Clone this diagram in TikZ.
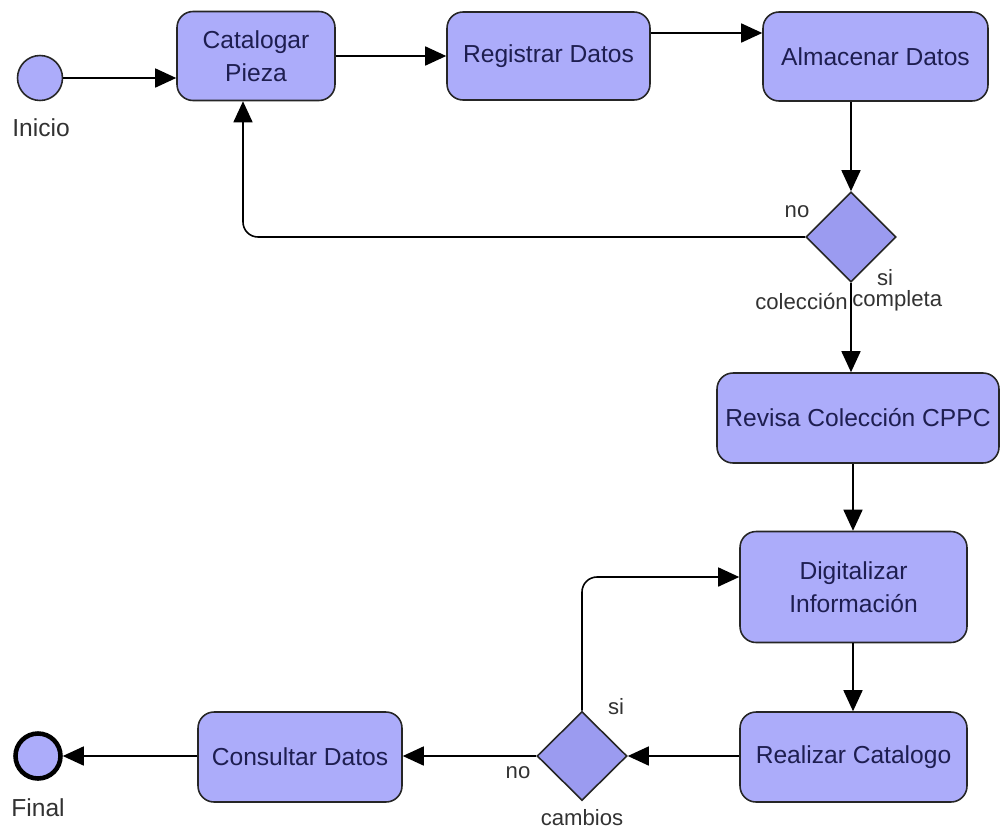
\documentclass[tikz,border=0pt]{standalone}
\usepackage{fontspec}
\setmainfont{Liberation Sans}
\usetikzlibrary{arrows.meta,shapes.geometric}
\definecolor{boxfill}{RGB}{172,172,250}
\definecolor{dfill}{RGB}{155,155,240}
\definecolor{txt}{RGB}{30,30,80}
\definecolor{lbl}{RGB}{50,50,50}
\begin{document}
\begin{tikzpicture}[x=0.02cm,y=-0.02cm,
  act/.style={draw=black!85,line width=0.9pt,fill=boxfill,rounded corners=0.32cm,inner sep=0pt,align=center,text=txt,font=\fontsize{14}{18.7}\selectfont},
  dec/.style={diamond,draw=black!85,line width=0.9pt,fill=dfill,inner sep=0pt,minimum width=1.8cm,minimum height=1.8cm},
  startst/.style={circle,draw=black!85,line width=0.9pt,fill=boxfill,minimum size=0.9cm,inner sep=0pt},
  endst/.style={circle,draw=black,line width=2.6pt,fill=boxfill,minimum size=0.9cm,inner sep=0pt},
  lab/.style={text=lbl,font=\fontsize{12.6}{15}\selectfont,inner sep=0pt},
  conn/.style={line width=0.9pt,-{Triangle[length=0.42cm,width=0.38cm]}}]
\useasboundingbox (0,0) rectangle (1000,832);
% nodes
\node[startst] (ini) at (40,78) {};
\node[lab,font=\fontsize{14}{15}\selectfont] (inil) at (41,128) {Inicio};
\node[act,minimum width=3.16cm,minimum height=1.78cm] (cat) at (256,56) {Catalogar\\Pieza};
\node[act,minimum width=4.06cm,minimum height=1.76cm] (reg) at (548.5,56) {Registrar Datos};
\node[act,minimum width=4.5cm,minimum height=1.78cm] (alm) at (875.5,56.5) {Almacenar Datos};
\node[dec] (d1) at (851,237) {};
\node[lab] (nol) at (797,212) {no};
\node[lab] (sil) at (885,278) {si};
\node[lab,anchor=east] (col) at (848,301) {colección};
\node[lab,anchor=west] (com) at (852,301) {completa};
\node[act,minimum width=5.64cm,minimum height=1.8cm] (rev) at (858,418) {Revisa Colección CPPC};
\node[act,minimum width=4.54cm,minimum height=2.22cm] (dig) at (853.5,587) {Digitalizar\\Información};
\node[act,minimum width=4.54cm,minimum height=1.8cm] (rea) at (853.5,757) {Realizar Catalogo};
\node[dec,minimum width=1.8cm,minimum height=1.78cm] (d2) at (582,756) {};
\node[lab] (si2) at (616,707) {si};
\node[lab] (no2) at (518,773) {no};
\node[lab] (cam) at (582,818) {cambios};
\node[act,minimum width=4.08cm,minimum height=1.8cm] (con) at (300,757) {Consultar Datos};
\node[endst] (fin) at (38,756) {};
\node[lab,font=\fontsize{14}{15}\selectfont] (finl) at (38,808) {Final};
\coordinate (r33) at (0,33);
\coordinate (c243) at (243,0);
\coordinate (c853) at (853,0);
\coordinate (r577) at (0,577);
% connectors
\draw[conn] (ini.east) -- (cat.west |- ini.east);
\draw[conn] (cat.east) -- (reg.west |- cat.east);
\draw[conn] (reg.east |- r33) -- (alm.west |- r33);
\draw[conn] (d1.north |- alm.south) -- (d1.north);
\draw[conn,rounded corners=0.3cm] (d1.west) -| (c243 |- cat.south);
\draw[conn] (d1.south) -- (d1.south |- rev.north);
\draw[conn] (c853 |- rev.south) -- (c853 |- dig.north);
\draw[conn] (c853 |- dig.south) -- (c853 |- rea.north);
\draw[conn] (rea.west |- d2.east) -- (d2.east);
\draw[conn,rounded corners=0.3cm] (d2.north) |- (dig.west |- r577);
\draw[conn] (d2.west) -- (con.east |- d2.west);
\draw[conn] (con.west |- fin.east) -- (fin.east);
\end{tikzpicture}
\end{document}
